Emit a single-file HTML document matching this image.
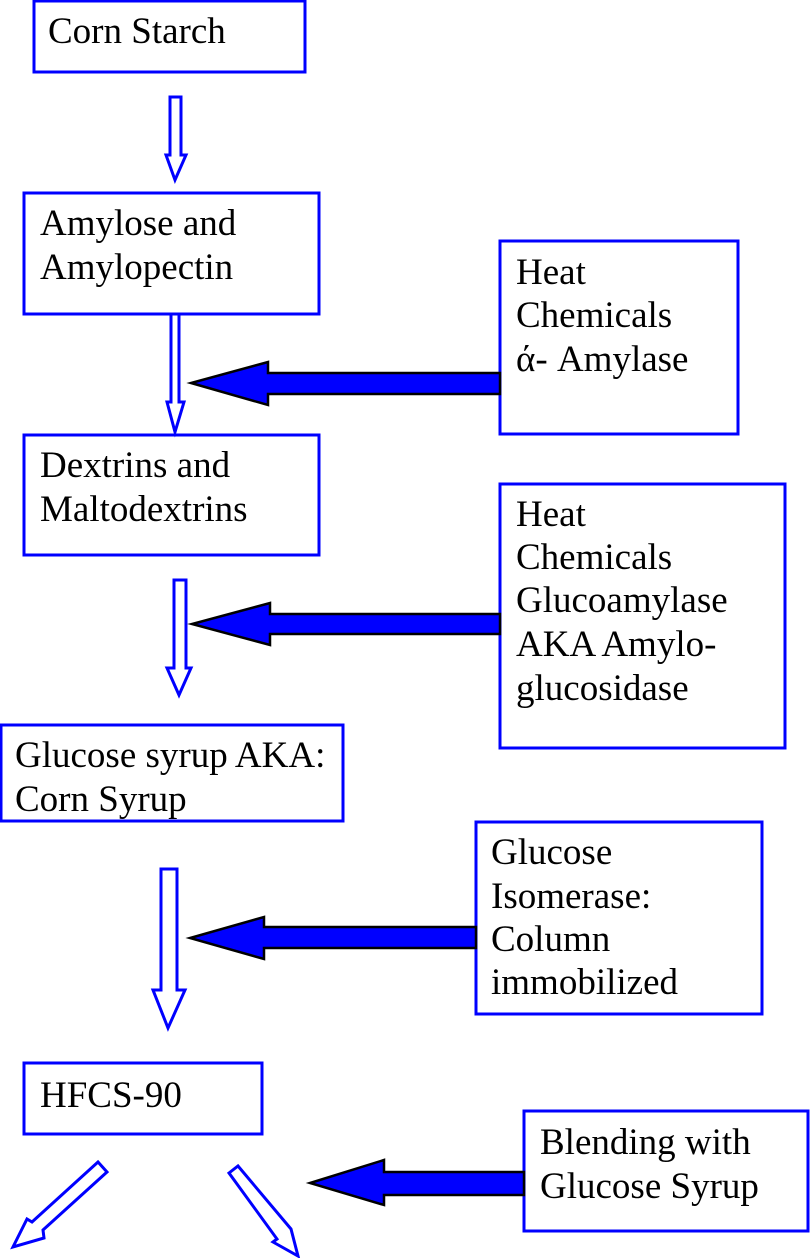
<!DOCTYPE html>
<html><head><style>
html,body{margin:0;padding:0;background:#fff}
svg{display:block}
text{font-family:"Liberation Serif",serif;font-size:37px;fill:#000}
</style></head><body>
<svg width="810" height="1258" viewBox="0 0 810 1258" xmlns="http://www.w3.org/2000/svg">
<g fill="none" stroke="#0000ff" stroke-width="3">
<rect x="34" y="1" width="271" height="71"/>
<rect x="24" y="193" width="295" height="121"/>
<rect x="500" y="241" width="238" height="193"/>
<rect x="24" y="435" width="295" height="120"/>
<rect x="500" y="484" width="285" height="264"/>
<rect x="1" y="725" width="342" height="96"/>
<rect x="476" y="822" width="286" height="192"/>
<rect x="24" y="1063" width="238" height="71"/>
<rect x="524" y="1111" width="284" height="120"/>
<polygon points="170,97 181,97 181,155 186,155 175,180 166,155 170,155"/>
<polygon points="171,314 179,314 179,402 184,402 175,432 167,402 171,402"/>
<polygon points="174,580 186,580 186,668 191,668 179,695 167,668 174,668"/>
<polygon points="161,869 177,869 177,990 185,990 168,1028 153,990 161,990"/>
<polygon points="98,1162 107,1172 43,1230 44,1238 13,1247 27,1219 32,1222"/>
<polygon points="229,1173 238,1166 291,1229 298,1256 273,1242 277,1239"/>
</g>
<g fill="#0000ff" stroke="#000" stroke-width="2.5">
<polygon points="500,373 268,373 268,362 191,383 268,405 268,394 500,394"/>
<polygon points="500,614 270,614 270,603 192,624 270,645 270,634 500,634"/>
<polygon points="476,927 264,927 264,917 190,938 264,959 264,948 476,948"/>
<polygon points="524,1172 384,1172 384,1160 310,1183 384,1205 384,1195 524,1195"/>
</g>
<text x="48" y="43">Corn Starch</text>
<text x="40" y="235">Amylose and</text>
<text x="40" y="279">Amylopectin</text>
<text x="516" y="284">Heat</text>
<text x="516" y="327">Chemicals</text>
<text x="516" y="371">ά- Amylase</text>
<text x="40" y="477">Dextrins and</text>
<text x="40" y="521">Maltodextrins</text>
<text x="516" y="526">Heat</text>
<text x="516" y="569">Chemicals</text>
<text x="516" y="612">Glucoamylase</text>
<text x="516" y="656">AKA Amylo-</text>
<text x="516" y="700">glucosidase</text>
<text x="15" y="767">Glucose syrup AKA:</text>
<text x="15" y="811">Corn Syrup</text>
<text x="491" y="864">Glucose</text>
<text x="491" y="908">Isomerase:</text>
<text x="491" y="951">Column</text>
<text x="491" y="994">immobilized</text>
<text x="40" y="1107">HFCS-90</text>
<text x="540" y="1154">Blending with</text>
<text x="540" y="1198">Glucose Syrup</text>
</svg>
</body></html>
